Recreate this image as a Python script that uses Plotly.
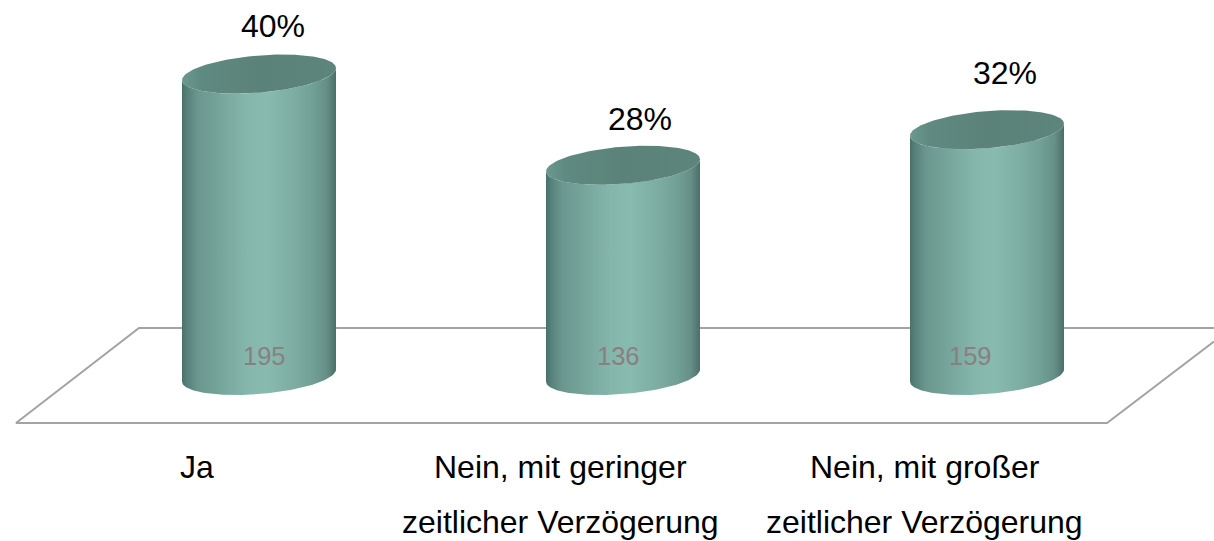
import numpy as np
import plotly.graph_objects as go

CATEGORIES = ["Ja", "Nein, mit geringer|zeitlicher Verzögerung", "Nein, mit großer|zeitlicher Verzögerung"]
COUNTS = [195, 136, 159]
PERCENT = ["40%", "28%", "32%"]

W, H = 1214, 541
# category spacing and value scale of the (hidden) axes, in pixels
PX_CAT0, PX_PER_CAT = 259.0, 364.0
PX_BASE, PX_PER_UNIT = 375.5, 1.546
def ax_x(px): return (px - PX_CAT0) / PX_PER_CAT
def ax_y(px): return (PX_BASE - px) / PX_PER_UNIT

HALF_W = 77 / PX_PER_CAT      # cylinder half-width
TILT = 6 / PX_PER_UNIT        # ellipse tilt
MINOR = 18.6 / PX_PER_UNIT    # ellipse minor half-axis

BODY_SCALE = [[0.0, "#4a6f68"], [0.03, "#55807a"], [0.1, "#6a968e"], [0.25, "#76a59c"], [0.42, "#85b6ac"],
              [0.55, "#88bbb0"], [0.72, "#7dada3"], [0.85, "#70a096"], [0.94, "#668f87"], [1.0, "#4a6f68"]]
TOP_SCALE = [[0.0, "#6c988e"], [0.12, "#5f8a81"], [0.5, "#5b8279"], [1.0, "#5e857c"]]
FLOOR_COLOR = "#a3a3a3"
FONT = "Liberation Sans, Arial, sans-serif"

fig = go.Figure()

# floor
fig.add_trace(go.Scatter(
    x=[ax_x(p) for p in (1214, 139, 16, 1107, 1214)],
    y=[ax_y(p) for p in (328, 328, 423, 423, 341.5)],
    mode="lines", line=dict(color=FLOOR_COLOR, width=2), hoverinfo="skip", showlegend=False))

t = np.linspace(0, 2 * np.pi, 181)
for i, v in enumerate(COUNTS):
    # body: lower half of base ellipse, then lower half of top ellipse reversed
    tb = np.linspace(np.pi, 2 * np.pi, 91)
    xe = i + HALF_W * np.cos(tb)
    base_y = TILT * np.cos(tb) + MINOR * np.sin(tb)
    top_y = v + TILT * np.cos(tb) + MINOR * np.sin(tb)
    fig.add_trace(go.Scatter(
        x=np.r_[xe, xe[::-1], xe[0]], y=np.r_[base_y, top_y[::-1], base_y[0]],
        mode="lines", line=dict(width=0), fill="toself",
        fillgradient=dict(type="horizontal", colorscale=BODY_SCALE),
        hoverinfo="skip", showlegend=False))
    # top ellipse
    fig.add_trace(go.Scatter(
        x=i + HALF_W * np.cos(t), y=v + TILT * np.cos(t) + MINOR * np.sin(t),
        mode="lines", line=dict(width=0), fill="toself",
        fillgradient=dict(type="horizontal", colorscale=TOP_SCALE),
        hoverinfo="skip", showlegend=False))

annotations = []
def label(px, py, text, size, color):
    annotations.append(dict(x=ax_x(px), y=ax_y(py), xref="x", yref="y", text=text, showarrow=False,
                            xanchor="center", yanchor="middle",
                            font=dict(family=FONT, size=size, color=color)))

for text, px, py in zip(PERCENT, (273, 639.5, 1005), (26, 119, 73)):
    label(px, py, text, 32, "#000000")
for v, px in zip(COUNTS, (264.5, 618, 970)):
    label(px, 356, str(v), 25.5, "#8a7f7f")
for cat, px in zip(CATEGORIES, (197, 560.5, 924.5)):
    for line, py in zip(cat.split("|"), (467, 522)):
        label(px, py, line, 32, "#000000")

fig.update_layout(
    width=W, height=H, margin=dict(l=0, r=0, t=0, b=0),
    paper_bgcolor="white", plot_bgcolor="white", showlegend=False,
    annotations=annotations,
    xaxis=dict(range=[ax_x(0), ax_x(W)], visible=False, fixedrange=True),
    yaxis=dict(range=[ax_y(H), ax_y(0)], visible=False, fixedrange=True),
)
fig.write_html("out.html", config={"displayModeBar": False},
               post_script="document.body.style.margin='0';document.documentElement.style.overflow='hidden';")
